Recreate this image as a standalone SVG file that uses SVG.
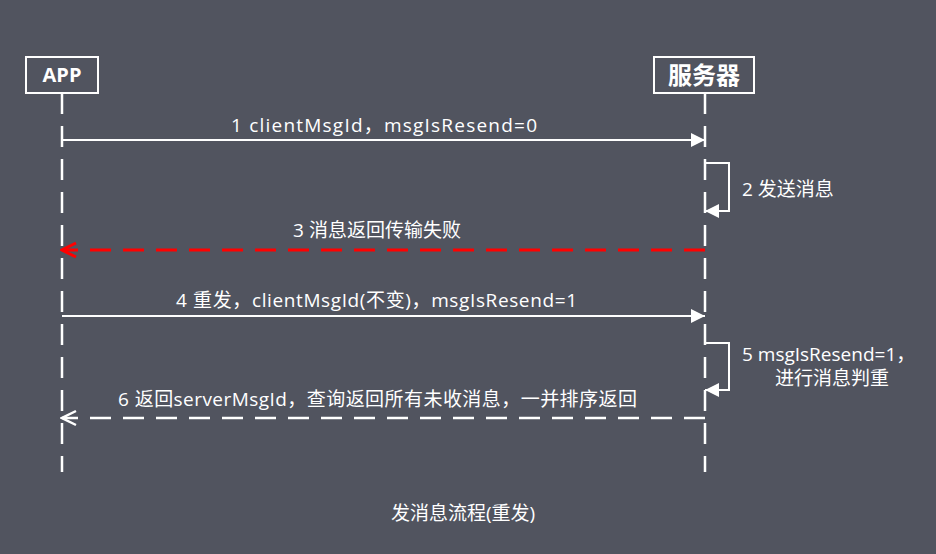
<svg xmlns="http://www.w3.org/2000/svg" width="936" height="554" viewBox="0 0 936 554">
<defs>
<style>
.bg{fill:#51545f}
.box{fill:none;stroke:#fff;stroke-width:2}
.life{stroke:#fff;stroke-width:2.5;stroke-dasharray:21 12;fill:none}
.msg{stroke:#fff;stroke-width:2;fill:none}
.ret{stroke:#fff;stroke-width:2.5;stroke-dasharray:21 12;fill:none}
.err{stroke:#f00;stroke-width:3;stroke-dasharray:21 12;fill:none}
.t{font-family:"Open Sans","Noto Sans CJK SC",sans-serif;font-size:19px;fill:#fff}
.c{text-anchor:middle}
.hd{font-family:"Open Sans","Noto Sans CJK SC",sans-serif;font-weight:bold;fill:#fff;text-anchor:middle}
</style>
<marker id="fa" markerWidth="14" markerHeight="14" refX="14" refY="7" orient="auto" markerUnits="userSpaceOnUse">
<path d="M0,0 L14,7 L0,14 Z" fill="#fff"/>
</marker>
<marker id="oa" markerWidth="18" markerHeight="18" refX="16" refY="9" orient="auto" markerUnits="userSpaceOnUse">
<path d="M2,2 L16,9 L2,16" fill="none" stroke="#fff" stroke-width="2.5"/>
</marker>
<marker id="ra" markerWidth="18" markerHeight="18" refX="16" refY="9" orient="auto" markerUnits="userSpaceOnUse">
<path d="M2,2 L16,9 L2,16" fill="none" stroke="#f00" stroke-width="3"/>
</marker>
</defs>
<rect class="bg" x="0" y="0" width="936" height="554"/>
<g id="app">
<rect class="box" x="26" y="57" width="72" height="36"/>
<text class="hd" x="62" y="82" font-size="20">APP</text>
<line class="life" x1="62" y1="93" x2="62" y2="472"/>
</g>
<g id="server">
<rect class="box" x="654" y="57" width="100" height="36"/>
<text class="hd" x="704" y="84" font-size="24">服务器</text>
<line class="life" x1="705" y1="93" x2="705" y2="472"/>
</g>
<g id="connectors">
<line class="msg" x1="62" y1="140" x2="705" y2="140" marker-end="url(#fa)"/>
<polyline class="msg" points="705,163 729,163 729,211 705,211" marker-end="url(#fa)"/>
<line class="err" x1="705" y1="250" x2="62" y2="250" marker-end="url(#ra)"/>
<line class="msg" x1="62" y1="316" x2="705" y2="316" marker-end="url(#fa)"/>
<polyline class="msg" points="705,343 729,343 729,390 705,390" marker-end="url(#fa)"/>
<line class="ret" x1="705" y1="418" x2="62" y2="418" marker-end="url(#oa)"/>
</g>
<g id="labels">
<text class="t" x="231" y="132" textLength="306" lengthAdjust="spacing">1 clientMsgId，msgIsResend=0</text>
<text class="t" x="742" y="196">2 发送消息</text>
<text class="t c" x="377" y="237">3 消息返回传输失败</text>
<text class="t" x="176" y="307" textLength="401" lengthAdjust="spacing">4 重发，clientMsgId(不变)，msgIsResend=1</text>
<text class="t" x="742" y="361">5 msgIsResend=1，</text>
<text class="t" x="775" y="385">进行消息判重</text>
<text class="t" x="118" y="406" textLength="519" lengthAdjust="spacing">6 返回serverMsgId，查询返回所有未收消息，一并排序返回</text>
<text class="t c" x="463" y="520">发消息流程(重发)</text>
</g>
</svg>
